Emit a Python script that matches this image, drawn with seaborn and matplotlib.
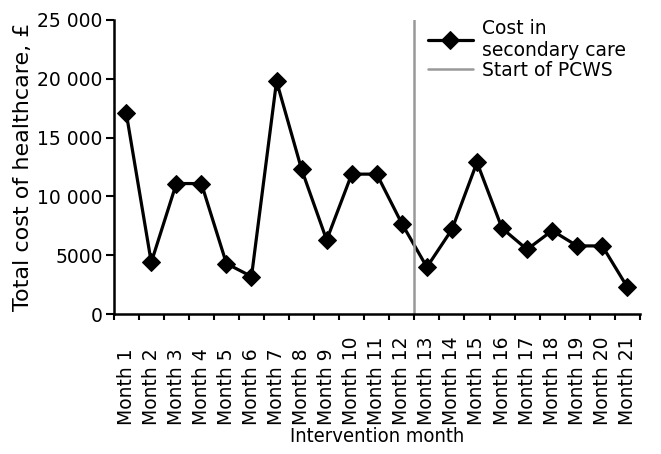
import numpy as np
import pandas as pd
import matplotlib
matplotlib.use("Agg")
import matplotlib.pyplot as plt
import seaborn as sns

months = [f"Month {i}" for i in range(1, 22)]
cost = [17100, 4400, 11100, 11100, 4300, 3200, 19800, 12300, 6300, 11900,
        11900, 7700, 4000, 7200, 12900, 7300, 5500, 7100, 5800, 5800, 2300]
y_ticks = [0, 5000, 10000, 15000, 20000, 25000]
y_tick_labels = ["0", "5000", "10 000", "15 000", "20 000", "25 000"]
pcws_start = 11.5  # between month 12 and month 13

sns.set_style("ticks", {"axes.edgecolor": "black", "text.color": "black",
                        "axes.labelcolor": "black", "xtick.color": "black",
                        "ytick.color": "black"})
plt.rcParams["font.family"] = ["DejaVu Sans"]
fs = 13.5

df = pd.DataFrame({"month": months, "cost": cost, "pos": np.arange(len(months))})

fig = plt.figure(figsize=(6.61, 4.54), dpi=100)
ax = fig.add_axes([0.172, 0.308, 0.796, 0.648])

sns.lineplot(data=df, x="pos", y="cost", ax=ax, color="black", linewidth=2.3,
             marker="D", markersize=9, markeredgecolor="black",
             label="Cost in\nsecondary care")
ax.axvline(pcws_start, color="#999999", linewidth=1.8, label="Start of PCWS")

ax.set_xlim(-0.5, len(months) - 0.5)
ax.set_ylim(0, 25000)
# ticks sit between months, labels are centred on the months
ax.set_xticks(np.arange(len(months) + 1) - 0.5)
ax.set_xticklabels([])
ax.set_xticks(np.arange(len(months)), minor=True)
ax.tick_params(axis="x", which="minor", length=0, pad=80)
ax.set_xticklabels(months, minor=True, rotation=90, fontsize=fs, va="bottom")
ax.tick_params(axis="x", which="major", length=4.5, width=1.5, direction="out")
ax.set_yticks(y_ticks)
ax.set_yticklabels(y_tick_labels, fontsize=fs)
ax.tick_params(axis="y", length=6, width=1.5, direction="out", pad=2)

sns.despine(ax=ax)
for s in ["left", "bottom"]:
    ax.spines[s].set_linewidth(1.8)

ax.set_xlabel("Intervention month", fontsize=14.5, fontstretch="condensed", labelpad=1)
ax.set_ylabel("Total cost of healthcare, £", fontsize=16, labelpad=3)

ax.legend(loc="upper left", bbox_to_anchor=(0.583, 1.03), frameon=False,
          fontsize=fs, handlelength=2.4, handletextpad=0.5,
          labelspacing=0.05, borderaxespad=0)

fig.savefig("out.png", dpi=100)
